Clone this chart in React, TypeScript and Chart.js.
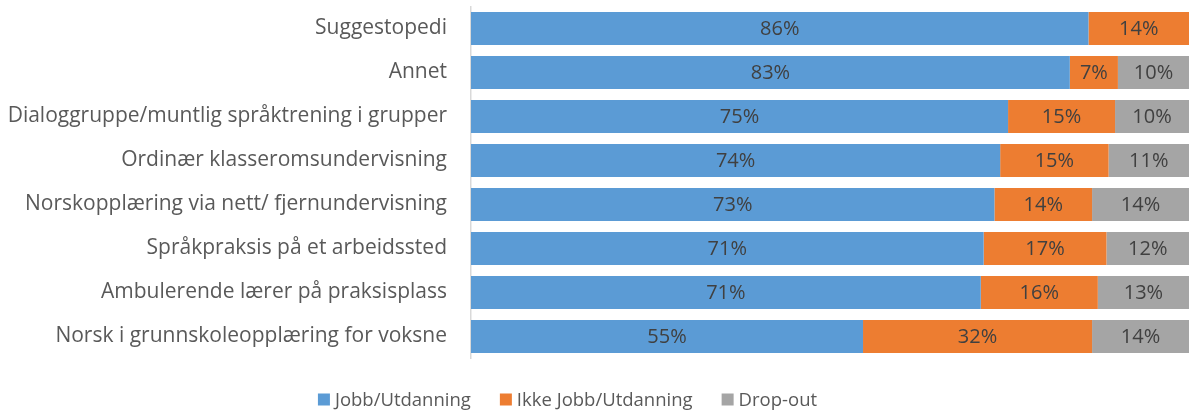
import React, { useEffect, useRef } from "react";
import { Chart, registerables } from "chart.js";

Chart.register(...registerables);

const categories = [
  "Suggestopedi",
  "Annet",
  "Dialoggruppe/muntlig språktrening i grupper",
  "Ordinær klasseromsundervisning",
  "Norskopplæring via nett/ fjernundervisning",
  "Språkpraksis på et arbeidssted",
  "Ambulerende lærer på praksisplass",
  "Norsk i grunnskoleopplæring for voksne",
];
const seriesNames = ["Jobb/Utdanning", "Ikke Jobb/Utdanning", "Drop-out"];
const jobb = [86.0, 83.4, 74.8, 73.7, 72.9, 71.4, 71.0, 54.6];
const ikkeJobb = [14.0, 6.7, 14.9, 15.1, 13.6, 17.1, 16.3, 31.9];
const dropOut = [0, 9.9, 10.3, 11.2, 13.5, 11.5, 12.7, 13.5];
const colors = ["#5B9BD5", "#ED7D31", "#A5A5A5"];

const FONT = "'Open Sans', 'Noto Sans', sans-serif";

const labelPlugin = {
  id: "barLabels",
  afterDatasetsDraw(chart: any) {
    const ctx = chart.ctx;
    ctx.save();
    ctx.font = `20px ${FONT}`;
    ctx.fillStyle = "#404040";
    ctx.textAlign = "center";
    ctx.textBaseline = "middle";
    chart.data.datasets.forEach((ds: any, i: number) => {
      const meta = chart.getDatasetMeta(i);
      meta.data.forEach((bar: any, j: number) => {
        const v = ds.data[j];
        if (!v) return;
        const x = (bar.x + bar.base) / 2;
        ctx.fillText(Math.round(v) + "%", x, bar.y + 1);
      });
    });
    ctx.restore();
  },
};

const legendPlugin = {
  id: "customLegend",
  afterDraw(chart: any) {
    const ctx = chart.ctx;
    ctx.save();
    ctx.font = `18.5px ${FONT}`;
    ctx.textBaseline = "middle";
    ctx.textAlign = "left";
    const box = 12;
    const gap = 5;
    const spacing = 29;
    const items = chart.data.datasets.map((ds: any) => ({
      label: ds.label,
      color: ds.backgroundColor,
      w: box + gap + ctx.measureText(ds.label).width,
    }));
    const total =
      items.reduce((s: number, it: any) => s + it.w, 0) + spacing * (items.length - 1);
    let x = chart.width / 2 - 27 - total / 2;
    const cy = 399.5;
    items.forEach((it: any) => {
      ctx.fillStyle = it.color;
      ctx.fillRect(x, cy - box / 2, box, box);
      ctx.fillStyle = "#595959";
      ctx.fillText(it.label, x + box + gap, cy + 1);
      x += it.w + spacing;
    });
    ctx.restore();
  },
};

export default function App() {
  const ref = useRef<HTMLCanvasElement>(null);
  useEffect(() => {
    document.body.style.margin = "0";
    const chart = new Chart(ref.current!, {
      type: "bar",
      data: {
        labels: categories,
        datasets: [jobb, ikkeJobb, dropOut].map((d, i) => ({
          label: seriesNames[i],
          data: d,
          backgroundColor: colors[i],
          borderWidth: 0,
          barPercentage: 0.75,
          categoryPercentage: 1,
        })),
      },
      options: {
        indexAxis: "y",
        animation: false,
        responsive: false,
        maintainAspectRatio: false,
        layout: { padding: { top: 6.5, left: 0, right: 0, bottom: 53.5 } },
        scales: {
          x: { display: false, stacked: true, min: 0, max: 100 },
          y: {
            stacked: true,
            grid: { display: false, drawTicks: false },
            border: { display: true, color: "#D9D9D9", width: 1.5 },
            ticks: {
              color: "#595959",
              font: { family: FONT, size: 21 },
              padding: 24,
            },
            afterFit(scale: any) {
              scale.width = 471;
              scale.paddingTop = 0;
              scale.paddingBottom = 0;
            },
          },
        },
        plugins: {
          legend: { display: false },
          tooltip: { enabled: false },
        },
      },
      plugins: [labelPlugin, legendPlugin],
    });
    return () => chart.destroy();
  }, []);
  return <canvas ref={ref} width={1189} height={412} style={{ display: "block" }} />;
}
